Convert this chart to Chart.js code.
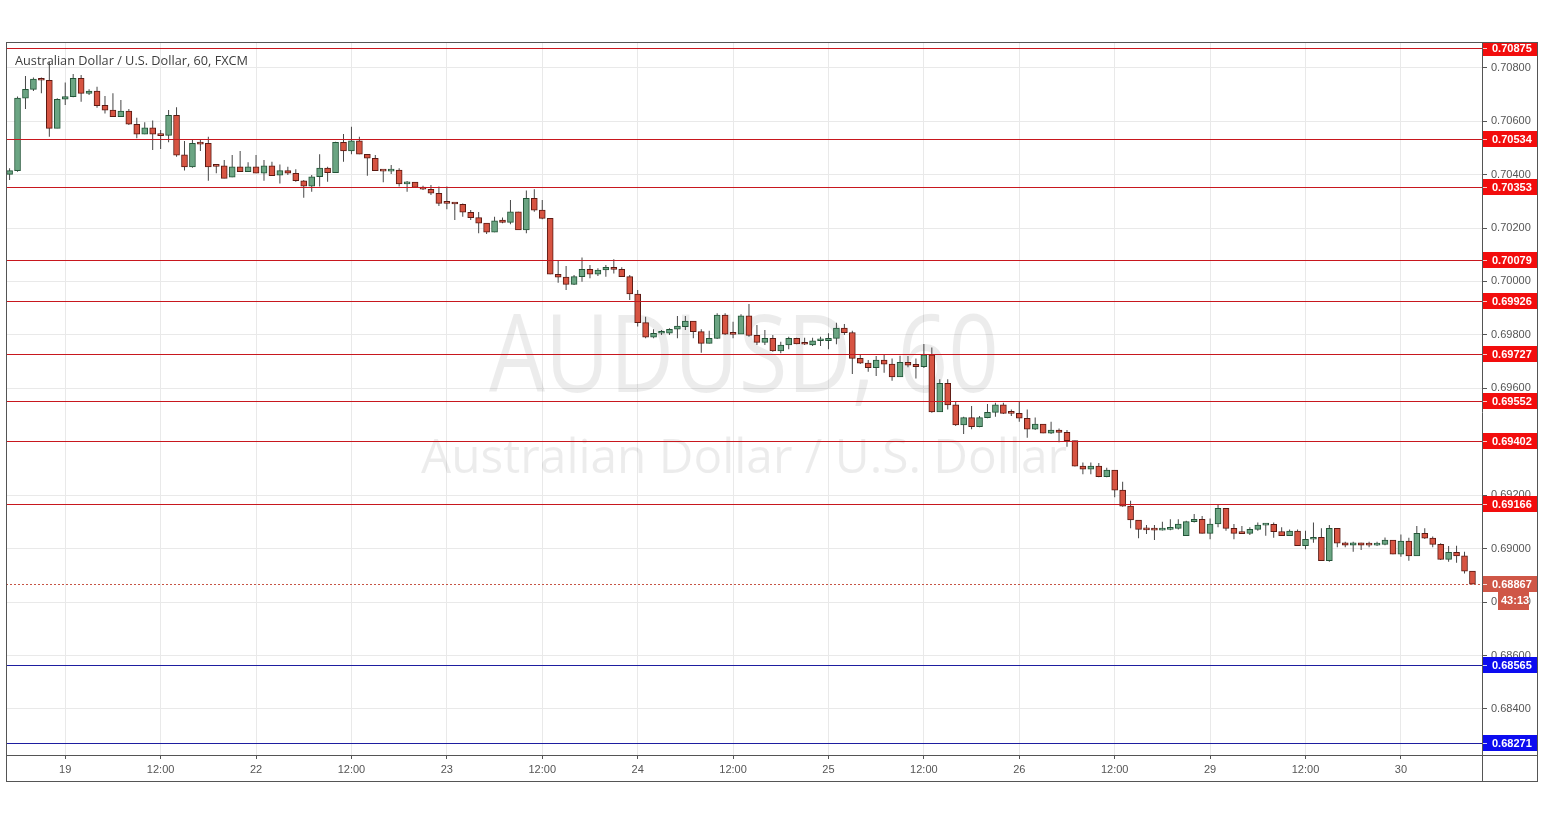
<!DOCTYPE html>
<html lang="en">
<head>
<meta charset="utf-8"/>
<title>AUDUSD, 60</title>
<script src="https://cdn.jsdelivr.net/npm/chart.js"></script>
<style>
  html, body { margin: 0; padding: 0; background: #fff; }
  canvas { display: block; }
</style>
</head>
<body>
<canvas id="chart" width="1545" height="819"></canvas>
<script>
// AUD/USD hourly candles, FXCM, Thu 18 Jul 2019 17:00 -> Tue 30 Jul 09:00
const opens = [
  0.70401, 0.70415, 0.70686, 0.70719, 0.70757, 0.70753, 0.70573, 0.70682, 0.70692, 0.70760,
  0.70704, 0.70713, 0.70659, 0.70641, 0.70617, 0.70638, 0.70588, 0.70551, 0.70575, 0.70548,
  0.70547, 0.70622, 0.70474, 0.70429, 0.70517, 0.70517, 0.70433, 0.70433, 0.70390, 0.70429,
  0.70411, 0.70429, 0.70405, 0.70433, 0.70398, 0.70415, 0.70405, 0.70377, 0.70357, 0.70392,
  0.70424, 0.70407, 0.70521, 0.70489, 0.70526, 0.70476, 0.70461, 0.70417, 0.70413, 0.70417,
  0.70365, 0.70372, 0.70353, 0.70345, 0.70330, 0.70295, 0.70292, 0.70289, 0.70259, 0.70239,
  0.70218, 0.70184, 0.70230, 0.70221, 0.70261, 0.70193, 0.70311, 0.70267, 0.70236, 0.70027,
  0.70016, 0.69989, 0.70018, 0.70045, 0.70027, 0.70043, 0.70053, 0.70045, 0.70018, 0.69953,
  0.69846, 0.69791, 0.69806, 0.69806, 0.69821, 0.69831, 0.69852, 0.69812, 0.69768, 0.69787,
  0.69874, 0.69803, 0.69803, 0.69871, 0.69798, 0.69772, 0.69787, 0.69740, 0.69762, 0.69787,
  0.69768, 0.69762, 0.69778, 0.69778, 0.69787, 0.69825, 0.69809, 0.69712, 0.69694, 0.69677,
  0.69706, 0.69691, 0.69643, 0.69697, 0.69690, 0.69681, 0.69725, 0.69512, 0.69619, 0.69538,
  0.69463, 0.69490, 0.69456, 0.69490, 0.69510, 0.69538, 0.69508, 0.69506, 0.69488, 0.69447,
  0.69466, 0.69432, 0.69444, 0.69435, 0.69404, 0.69309, 0.69297, 0.69309, 0.69269, 0.69294,
  0.69219, 0.69159, 0.69107, 0.69072, 0.69070, 0.69069, 0.69072, 0.69076, 0.69048, 0.69101,
  0.69110, 0.69057, 0.69092, 0.69151, 0.69076, 0.69059, 0.69057, 0.69072, 0.69088, 0.69091,
  0.69064, 0.69048, 0.69066, 0.69011, 0.69035, 0.69042, 0.68955, 0.69076, 0.69022, 0.69013,
  0.69022, 0.69016, 0.69013, 0.69016, 0.69032, 0.68979, 0.69028, 0.68973, 0.69057, 0.69039,
  0.69016, 0.68960, 0.68986, 0.68973, 0.68916
];
const highs = [
  0.70424, 0.70692, 0.70769, 0.70763, 0.70763, 0.70822, 0.70686, 0.70745, 0.70776, 0.70773,
  0.70719, 0.70729, 0.70694, 0.70704, 0.70679, 0.70645, 0.70613, 0.70596, 0.70602, 0.70567,
  0.70642, 0.70652, 0.70526, 0.70533, 0.70529, 0.70542, 0.70438, 0.70455, 0.70473, 0.70488,
  0.70446, 0.70473, 0.70455, 0.70448, 0.70438, 0.70429, 0.70420, 0.70380, 0.70398, 0.70476,
  0.70429, 0.70523, 0.70552, 0.70579, 0.70542, 0.70476, 0.70473, 0.70417, 0.70436, 0.70424,
  0.70376, 0.70372, 0.70358, 0.70361, 0.70355, 0.70355, 0.70292, 0.70292, 0.70267, 0.70260,
  0.70218, 0.70242, 0.70239, 0.70305, 0.70261, 0.70340, 0.70345, 0.70305, 0.70236, 0.70077,
  0.70058, 0.70024, 0.70090, 0.70062, 0.70049, 0.70062, 0.70083, 0.70053, 0.70024, 0.69968,
  0.69868, 0.69821, 0.69818, 0.69825, 0.69871, 0.69871, 0.69852, 0.69821, 0.69815, 0.69881,
  0.69881, 0.69849, 0.69877, 0.69916, 0.69837, 0.69818, 0.69800, 0.69774, 0.69793, 0.69789,
  0.69789, 0.69789, 0.69793, 0.69806, 0.69845, 0.69841, 0.69815, 0.69725, 0.69706, 0.69721,
  0.69725, 0.69712, 0.69722, 0.69721, 0.69712, 0.69766, 0.69753, 0.69634, 0.69634, 0.69550,
  0.69494, 0.69534, 0.69496, 0.69541, 0.69546, 0.69546, 0.69521, 0.69550, 0.69521, 0.69491,
  0.69466, 0.69475, 0.69450, 0.69444, 0.69404, 0.69322, 0.69322, 0.69320, 0.69303, 0.69294,
  0.69250, 0.69179, 0.69107, 0.69088, 0.69088, 0.69101, 0.69110, 0.69110, 0.69104, 0.69130,
  0.69122, 0.69113, 0.69163, 0.69151, 0.69092, 0.69085, 0.69080, 0.69098, 0.69095, 0.69098,
  0.69080, 0.69072, 0.69072, 0.69067, 0.69098, 0.69076, 0.69088, 0.69076, 0.69026, 0.69026,
  0.69022, 0.69026, 0.69026, 0.69042, 0.69032, 0.69053, 0.69041, 0.69085, 0.69076, 0.69045,
  0.69020, 0.69010, 0.69011, 0.68988, 0.68916
];
const lows = [
  0.70380, 0.70411, 0.70645, 0.70713, 0.70704, 0.70542, 0.70573, 0.70660, 0.70689, 0.70673,
  0.70698, 0.70650, 0.70629, 0.70617, 0.70617, 0.70586, 0.70536, 0.70551, 0.70492, 0.70496,
  0.70521, 0.70467, 0.70415, 0.70426, 0.70488, 0.70377, 0.70405, 0.70386, 0.70390, 0.70411,
  0.70411, 0.70405, 0.70377, 0.70396, 0.70367, 0.70398, 0.70373, 0.70313, 0.70336, 0.70355,
  0.70373, 0.70407, 0.70448, 0.70476, 0.70476, 0.70396, 0.70415, 0.70371, 0.70402, 0.70355,
  0.70336, 0.70352, 0.70342, 0.70324, 0.70282, 0.70270, 0.70230, 0.70242, 0.70230, 0.70180,
  0.70178, 0.70184, 0.70218, 0.70214, 0.70193, 0.70180, 0.70261, 0.70233, 0.70027, 0.69995,
  0.69968, 0.69987, 0.69999, 0.70012, 0.70020, 0.70018, 0.70030, 0.70018, 0.69931, 0.69831,
  0.69787, 0.69787, 0.69800, 0.69800, 0.69787, 0.69818, 0.69787, 0.69733, 0.69768, 0.69785,
  0.69800, 0.69787, 0.69803, 0.69793, 0.69762, 0.69762, 0.69737, 0.69731, 0.69746, 0.69765,
  0.69762, 0.69758, 0.69758, 0.69746, 0.69765, 0.69800, 0.69654, 0.69691, 0.69662, 0.69646,
  0.69658, 0.69628, 0.69643, 0.69679, 0.69637, 0.69676, 0.69509, 0.69512, 0.69521, 0.69459,
  0.69429, 0.69447, 0.69454, 0.69488, 0.69494, 0.69504, 0.69496, 0.69475, 0.69415, 0.69444,
  0.69432, 0.69429, 0.69398, 0.69381, 0.69307, 0.69278, 0.69278, 0.69267, 0.69267, 0.69192,
  0.69157, 0.69076, 0.69039, 0.69055, 0.69032, 0.69068, 0.69069, 0.69072, 0.69048, 0.69098,
  0.69057, 0.69035, 0.69080, 0.69067, 0.69035, 0.69055, 0.69051, 0.69067, 0.69048, 0.69041,
  0.69048, 0.69048, 0.69011, 0.68998, 0.69022, 0.68955, 0.68951, 0.69005, 0.69005, 0.68988,
  0.68995, 0.69005, 0.69010, 0.69013, 0.68979, 0.68970, 0.68955, 0.68973, 0.69036, 0.69005,
  0.68957, 0.68951, 0.68947, 0.68907, 0.68867
];
const closes = [
  0.70415, 0.70686, 0.70719, 0.70757, 0.70753, 0.70573, 0.70682, 0.70692, 0.70760, 0.70704,
  0.70713, 0.70658, 0.70641, 0.70617, 0.70638, 0.70589, 0.70551, 0.70575, 0.70551, 0.70546,
  0.70622, 0.70473, 0.70429, 0.70517, 0.70514, 0.70429, 0.70431, 0.70386, 0.70429, 0.70411,
  0.70429, 0.70405, 0.70433, 0.70396, 0.70415, 0.70405, 0.70377, 0.70357, 0.70392, 0.70424,
  0.70407, 0.70521, 0.70489, 0.70526, 0.70476, 0.70461, 0.70415, 0.70413, 0.70417, 0.70365,
  0.70372, 0.70352, 0.70345, 0.70330, 0.70292, 0.70292, 0.70290, 0.70259, 0.70239, 0.70218,
  0.70184, 0.70227, 0.70221, 0.70261, 0.70193, 0.70311, 0.70267, 0.70236, 0.70027, 0.70016,
  0.69989, 0.70018, 0.70045, 0.70027, 0.70043, 0.70053, 0.70045, 0.70018, 0.69953, 0.69846,
  0.69791, 0.69806, 0.69808, 0.69821, 0.69833, 0.69852, 0.69812, 0.69768, 0.69787, 0.69874,
  0.69803, 0.69802, 0.69871, 0.69798, 0.69772, 0.69787, 0.69740, 0.69762, 0.69787, 0.69766,
  0.69765, 0.69778, 0.69781, 0.69787, 0.69825, 0.69808, 0.69712, 0.69694, 0.69677, 0.69706,
  0.69690, 0.69643, 0.69697, 0.69687, 0.69681, 0.69725, 0.69512, 0.69619, 0.69538, 0.69463,
  0.69490, 0.69456, 0.69490, 0.69510, 0.69538, 0.69506, 0.69506, 0.69488, 0.69447, 0.69466,
  0.69432, 0.69444, 0.69435, 0.69404, 0.69309, 0.69297, 0.69309, 0.69269, 0.69294, 0.69219,
  0.69159, 0.69107, 0.69072, 0.69070, 0.69069, 0.69072, 0.69076, 0.69092, 0.69101, 0.69110,
  0.69057, 0.69092, 0.69151, 0.69076, 0.69057, 0.69056, 0.69072, 0.69088, 0.69091, 0.69063,
  0.69048, 0.69066, 0.69011, 0.69035, 0.69042, 0.68955, 0.69076, 0.69020, 0.69013, 0.69022,
  0.69013, 0.69013, 0.69020, 0.69032, 0.68979, 0.69028, 0.68973, 0.69057, 0.69039, 0.69016,
  0.68960, 0.68986, 0.68973, 0.68916, 0.68867
];

// drawn horizontal levels
const resistance = [0.70875, 0.70534, 0.70353, 0.70079, 0.69926, 0.69727, 0.69552, 0.69402, 0.69166];
const support = [0.68565, 0.68271];
const lastPrice = 0.68867;
const countdown = '43:13';
const priceTicks = [0.684, 0.686, 0.688, 0.690, 0.692, 0.694, 0.696, 0.698, 0.700, 0.702, 0.704, 0.706, 0.708];

// hour of each candle (market closed Fri 17:00 -> Sun 17:00)
const times = [];
let t = Date.UTC(2019, 6, 18, 17);
while (times.length < closes.length) {
  const d = new Date(t);
  if (d.getUTCDay() === 5 && d.getUTCHours() === 17) { t += 48 * 3600e3; continue; }
  times.push(d);
  t += 3600e3;
}
const tickIdx = [], tickLabels = [];
times.forEach((d, i) => {
  const h = d.getUTCHours();
  if (h === 0) { tickIdx.push(i); tickLabels.push(String(d.getUTCDate())); }
  else if (h === 12) { tickIdx.push(i); tickLabels.push('12:00'); }
});

const FONT = '"Liberation Sans", Arial, sans-serif';
Chart.defaults.font.family = FONT;

const up = closes.map((c, i) => c >= opens[i]);
const idx = closes.map((_, i) => i);

function fitText(ctx, text, cx, baseline, size, width, font) {
  ctx.save();
  ctx.font = size + 'px ' + font;
  const w = ctx.measureText(text).width;
  ctx.translate(cx, baseline);
  ctx.scale(width / w, 1);
  ctx.textAlign = 'center';
  ctx.textBaseline = 'alphabetic';
  ctx.fillText(text, 0, 0);
  ctx.restore();
}

function tag(ctx, x, y, w, h, fill, text) {
  ctx.fillStyle = fill;
  ctx.fillRect(x, Math.round(y - h / 2), w, h);
  ctx.strokeStyle = 'rgba(255,255,255,0.8)';
  ctx.lineWidth = 1;
  ctx.beginPath();
  ctx.moveTo(x, Math.round(y) + 0.5);
  ctx.lineTo(x + 4, Math.round(y) + 0.5);
  ctx.stroke();
  ctx.fillStyle = '#fff';
  ctx.font = 'bold 11px ' + FONT;
  ctx.textAlign = 'left';
  ctx.textBaseline = 'middle';
  ctx.fillText(text, x + 9, Math.round(y) + 1);
}

const decor = {
  id: 'decor',
  beforeDatasetsDraw(chart) {
    const { ctx, chartArea: a } = chart;
    const cx = (a.left + a.right) / 2;
    ctx.save();
    ctx.fillStyle = 'rgba(0,0,0,0.075)';
    fitText(ctx, 'AUDUSD, 60', cx, 392, 108, 510, '"Open Sans", sans-serif');
    fitText(ctx, 'Australian Dollar / U.S. Dollar', cx, 473, 48, 646, '"Open Sans", sans-serif');
    ctx.restore();
  },
  afterDatasetsDraw(chart) {
    const { ctx, chartArea: a, scales: { y } } = chart;
    ctx.save();
    ctx.lineWidth = 1;
    const line = (p, color) => {
      const py = Math.round(y.getPixelForValue(p)) + 0.5;
      ctx.strokeStyle = color;
      ctx.beginPath();
      ctx.moveTo(a.left, py);
      ctx.lineTo(a.right, py);
      ctx.stroke();
    };
    resistance.forEach(p => line(p, '#c8171e'));
    support.forEach(p => line(p, '#1e1ea0'));
    ctx.setLineDash([2, 2]);
    line(lastPrice, '#c65445');
    ctx.restore();
  },
  afterDraw(chart) {
    const { ctx, chartArea: a, scales: { y } } = chart;
    ctx.save();
    // price tags on the axis
    ctx.beginPath();
    ctx.rect(a.right, a.top, 60, a.bottom - a.top);
    ctx.clip();
    resistance.forEach(p => tag(ctx, a.right + 1, y.getPixelForValue(p), 55, 16, '#f20d0d', p.toFixed(5)));
    support.forEach(p => tag(ctx, a.right + 1, y.getPixelForValue(p), 55, 16, '#0c0cf0', p.toFixed(5)));
    const ly = y.getPixelForValue(lastPrice);
    tag(ctx, a.right + 1, ly, 55, 16, '#cf5747', lastPrice.toFixed(5));
    ctx.fillStyle = '#cf5747';
    ctx.fillRect(a.right + 16, Math.round(ly) + 8, 31, 18);
    ctx.fillStyle = '#fff';
    ctx.font = 'bold 11px ' + FONT;
    ctx.textAlign = 'left';
    ctx.textBaseline = 'middle';
    ctx.fillText(countdown, a.right + 19, Math.round(ly) + 17);
    ctx.restore();

    // frame and pane separators
    ctx.save();
    ctx.strokeStyle = '#555';
    ctx.lineWidth = 1;
    ctx.strokeRect(6.5, 42.5, 1531, 739);
    ctx.beginPath();
    ctx.moveTo(Math.round(a.right) + 0.5, 43);
    ctx.lineTo(Math.round(a.right) + 0.5, 782);
    ctx.moveTo(6, Math.round(a.bottom) + 0.5);
    ctx.lineTo(1538, Math.round(a.bottom) + 0.5);
    ctx.stroke();

    // symbol title
    ctx.fillStyle = '#3d3d3d';
    ctx.font = '13px "Open Sans", sans-serif';
    const title = 'Australian Dollar / U.S. Dollar, 60, FXCM';
    const w = ctx.measureText(title).width;
    ctx.translate(15, 65);
    ctx.scale(233 / w, 1);
    ctx.textBaseline = 'alphabetic';
    ctx.fillText(title, 0, 0);
    ctx.restore();
  }
};

new Chart(document.getElementById('chart'), {
  type: 'bar',
  data: {
    datasets: [
      {
        label: 'body',
        data: idx.map(i => ({ x: i, y: [opens[i], closes[i]] })),
        backgroundColor: up.map(u => u ? '#6ba583' : '#d75442'),
        borderColor: up.map(u => u ? '#225437' : '#5b1a13'),
        borderWidth: 1,
        borderSkipped: false,
        barThickness: 6,
        minBarLength: 2,
        grouped: false,
        order: 0
      },
      {
        label: 'wick',
        data: idx.map(i => ({ x: i, y: [lows[i], highs[i]] })),
        backgroundColor: '#474747',
        borderWidth: 0,
        barThickness: 1,
        inflateAmount: 0,
        grouped: false,
        order: 1
      }
    ]
  },
  options: {
    responsive: false,
    animation: false,
    events: [],
    layout: { padding: { left: 6, top: 43, right: 7, bottom: 37 } },
    plugins: { legend: { display: false }, tooltip: { enabled: false } },
    scales: {
      x: {
        type: 'linear',
        min: -0.45,
        max: 185.2,
        bounds: 'data',
        offset: false,
        afterBuildTicks: s => { s.ticks = tickIdx.map(v => ({ value: v })); },
        afterFit: s => { s.height = 27; },
        ticks: {
          autoSkip: false,
          maxRotation: 0,
          color: '#555',
          font: { size: 11 },
          padding: 4,
          callback: (v, i) => tickLabels[i]
        },
        grid: { color: '#e9e9e9', offset: false, tickLength: 4, tickColor: '#555' },
        border: { display: false }
      },
      y: {
        position: 'right',
        min: 0.682275,
        max: 0.708925,
        bounds: 'data',
        beginAtZero: false,
        afterBuildTicks: s => { s.ticks = priceTicks.map(v => ({ value: v })); },
        afterFit: s => { s.width = 56; },
        ticks: {
          color: '#555',
          font: { size: 11 },
          padding: 4,
          callback: v => v.toFixed(5)
        },
        grid: { color: '#e9e9e9', tickLength: 5, tickColor: '#555' },
        border: { display: false }
      }
    }
  },
  plugins: [decor]
});
</script>
</body>
</html>
